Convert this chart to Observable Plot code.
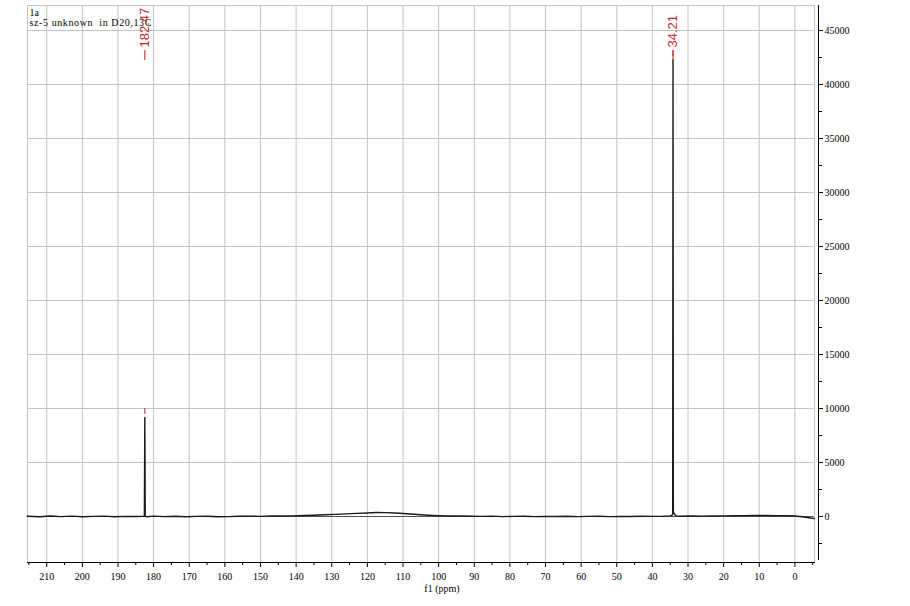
<!DOCTYPE html>
<html><head><meta charset="utf-8">
<script src="https://cdn.jsdelivr.net/npm/d3@7"></script>
<script src="https://cdn.jsdelivr.net/npm/@observablehq/plot@0.6"></script>
<style>
body{margin:0;background:#fff}
svg{display:block}
svg text{white-space:pre}
</style>
</head><body><div id="chart"></div>
<script>
// ---- data ----
const ppm = [215.5,212,209,206,203,200,197,194,191,188,185,183.0,182.6,182.47,182.35,182.0,180,177,174,171,168,165,162,159,156,153,150,147,144,141,138,135,132,129,126,123,120,117.5,115,112,109,106,103,100,97,94,91,88,85,82,79,76,73,70,67,64,61,58,55,52,49,46,43,40,37,35.0,34.45,34.3,34.21,34.12,34.0,33.8,33.4,32,29,26,23,20,17,14,11,8,5,2,0,-2,-4,-5.5];
const intensity = [20,-30,40,-10,30,-20,10,30,-25,15,0,10,20,9170,10,-20,30,-15,20,-30,10,25,-20,-10,20,30,10,40,50,60,90,120,160,200,240,290,330,370,360,320,250,180,120,80,50,40,20,10,30,-10,15,20,-10,10,0,25,-15,10,20,-10,15,0,20,10,20,60,120,250,42300,400,350,200,60,20,40,30,50,60,70,80,90,90,80,70,40,-20,-120,-200];
const peakPpm = [182.47, 34.21];
const peakHeight = [9170, 42300];
const peakLabels = ["182.47", "34.21"];
const xMajorTicks = [210,200,190,180,170,160,150,140,130,120,110,100,90,80,70,60,50,40,30,20,10,0];
const xMinorTicks = [215,205,195,185,175,165,155,145,135,125,115,105,95,85,75,65,55,45,35,25,15,5,-5];
const yMajorTicks = [0,5000,10000,15000,20000,25000,30000,35000,40000,45000];
const yMinorTicks = [-2500,2500,7500,12500,17500,22500,27500,32500,37500,42500];
const titleLines = ["1a", "sz-5 unknown  in D20,13C"];
const xLabel = "f1 (ppm)";

// ---- scale settings ----
const xDomain = [215.4, -5.5];
const yDomain = [-4260, 47315];

const spectrum = ppm.map((p, i) => ({ppm: p, y: intensity[i]}));
const peaks = peakPpm.map((p, i) => ({ppm: p, h: peakHeight[i], label: peakLabels[i]}));

const grid = "#c4c4c4";
const red = "#cc1f1f";
const serif = "'Liberation Serif', 'DejaVu Serif', serif";

const chart = Plot.plot({
  width: 910, height: 606,
  marginLeft: 27, marginRight: 96, marginTop: 5, marginBottom: 44,
  style: {fontFamily: serif, fontSize: "10px", background: "#fff", color: "#000", overflow: "visible"},
  x: {domain: xDomain, label: null},
  y: {domain: yDomain, label: null},
  marks: [
    Plot.gridX(xMajorTicks, {stroke: grid, strokeOpacity: 1}),
    Plot.gridY(yMajorTicks, {stroke: grid, strokeOpacity: 1}),
    Plot.frame({stroke: grid}),
    Plot.ruleY([0], {stroke: "#333", strokeWidth: 0.8}),
    Plot.line(spectrum, {x: "ppm", y: "y", stroke: "#1a1a1a", strokeWidth: 1.4}),
    Plot.frame({anchor: "bottom", stroke: "#000"}),
    Plot.axisX(xMajorTicks, {tickSize: 5, tickPadding: 5, label: null, tickFormat: d => String(d), fontSize: 10}),
    Plot.axisX(xMinorTicks, {tickSize: 3, label: null, tickFormat: () => ""}),
    Plot.ruleX([xDomain[1]], {stroke: "#000", dx: 4, insetBottom: 2}),
    Plot.axisY(yMajorTicks, {anchor: "right", tickSize: 4, tickPadding: 2, dx: 4, label: null, tickFormat: d => String(d), fontSize: 10}),
    Plot.axisY(yMinorTicks, {anchor: "right", tickSize: 3, dx: 4, label: null, tickFormat: () => ""}),
    Plot.text([xLabel], {frameAnchor: "bottom", dx: 21, dy: 22, lineAnchor: "top", fontSize: 10}),
    Plot.text([titleLines.join("\n")], {frameAnchor: "top-left", dx: 2, dy: 3, lineAnchor: "top", textAnchor: "start", lineHeight: 1.0, fontSize: 10}),
    Plot.ruleX(peaks, {x: "ppm", y1: "h", y2: "h", insetTop: -9, insetBottom: 3, stroke: red, strokeWidth: 1}),
    Plot.ruleX(peaks, {x: "ppm", stroke: red, strokeWidth: 1, insetTop: 45, insetBottom: 502}),
    Plot.text(peaks, {x: "ppm", text: "label", frameAnchor: "top", rotate: -90, textAnchor: "start", lineAnchor: "middle", dy: 42, fill: red, fontSize: 13, fontFamily: "'Liberation Sans', Arial, sans-serif"})
  ]
});
// widen the title lettering to match the reference's wider bitmap font
d3.select(chart).selectAll("tspan, text").filter(function() {
  return this.textContent.startsWith("sz-5") && this.tagName === "tspan";
}).style("letter-spacing", "0.6px");
document.getElementById("chart").appendChild(chart);
</script>
</body></html>
